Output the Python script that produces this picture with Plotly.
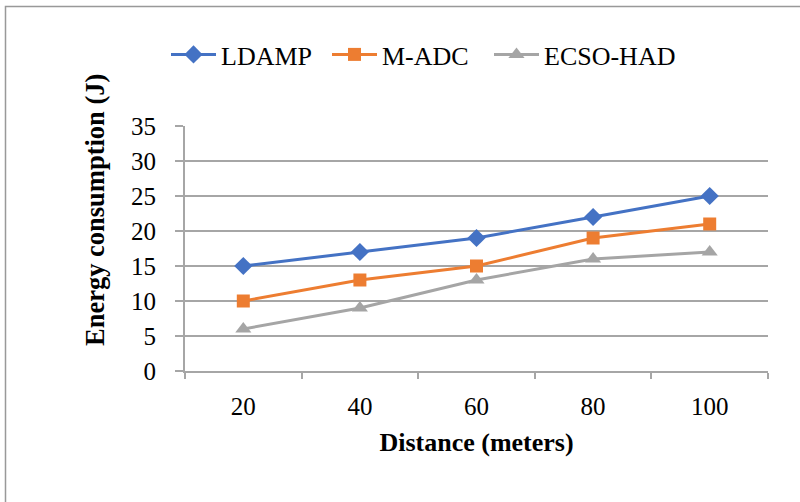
import plotly.graph_objects as go

distance = ["20", "40", "60", "80", "100"]
ldamp = [15, 17, 19, 22, 25]
madc = [10, 13, 15, 19, 21]
ecso_had = [6, 9, 13, 16, 17]

FONT = "'Liberation Serif', 'Times New Roman', Times, serif"
L, R, T, B = 185, 32, 126, 131
W, H = 800, 502
pw, ph = W - L - R, H - T - B

def px_x(p):
    return (p - L) / pw

def px_y(p):
    return (H - B - p) / ph

fig = go.Figure()
fig.add_trace(go.Scatter(x=distance, y=ldamp, name="LDAMP", mode="lines+markers",
                         line=dict(color="#4472C4", width=3), legend="legend",
                         marker=dict(symbol="diamond", size=14, color="#4472C4")))
fig.add_trace(go.Scatter(x=distance, y=madc, name="M-ADC", mode="lines+markers",
                         line=dict(color="#ED7D31", width=3), legend="legend2",
                         marker=dict(symbol="square", size=13, color="#ED7D31")))
fig.add_trace(go.Scatter(x=distance, y=ecso_had, name="ECSO-HAD", mode="lines+markers",
                         line=dict(color="#A5A5A5", width=3), legend="legend3",
                         marker=dict(symbol="triangle-up", size=14, color="#A5A5A5")))

def leg(xpx):
    return dict(orientation="h", x=px_x(xpx), y=px_y(31), xanchor="left", yanchor="top",
                font=dict(family=FONT, size=26, color="black"),
                itemwidth=45, bgcolor="rgba(0,0,0,0)")

fig.update_layout(
    width=W, height=H,
    margin=dict(l=L, r=R, t=T, b=B, autoexpand=False),
    paper_bgcolor="white", plot_bgcolor="white",
    font=dict(family=FONT, size=25, color="black"),
    showlegend=True,
    legend=leg(166), legend2=leg(327), legend3=leg(489),
    xaxis=dict(type="category", range=[-0.5, 4.5],
               showline=True, linecolor="#A6A6A6", linewidth=2,
               ticks="outside", tickson="boundaries", ticklen=6, tickcolor="#A6A6A6", tickwidth=2,
               showgrid=False, zeroline=False, ticklabelstandoff=12,
               tickfont=dict(family=FONT, size=25, color="black"),
               title=dict(text="<b>Distance (meters)</b>", standoff=14,
                          font=dict(family=FONT, size=26, color="black"))),
    yaxis=dict(range=[0, 35], dtick=5, tick0=0,
               showline=True, linecolor="#A6A6A6", linewidth=2,
               ticks="outside", ticklen=8, tickcolor="#A6A6A6", tickwidth=2,
               showgrid=True, gridcolor="#A6A6A6", gridwidth=1.5, zeroline=False,
               ticklabelstandoff=14,
               tickfont=dict(family=FONT, size=25, color="black")),
    annotations=[dict(text="<b>Energy consumption (J)</b>", textangle=-90,
                      xref="paper", yref="paper", x=px_x(95), y=px_y(210),
                      xanchor="center", yanchor="middle", showarrow=False,
                      font=dict(family=FONT, size=26.5, color="black"))],
    shapes=[dict(type="rect", xref="paper", yref="paper",
                 x0=px_x(5.5), x1=px_x(900), y0=px_y(600), y1=px_y(6.5),
                 line=dict(color="#999999", width=1.5), fillcolor="rgba(0,0,0,0)", layer="below")],
)

fig.write_html("out.html")
